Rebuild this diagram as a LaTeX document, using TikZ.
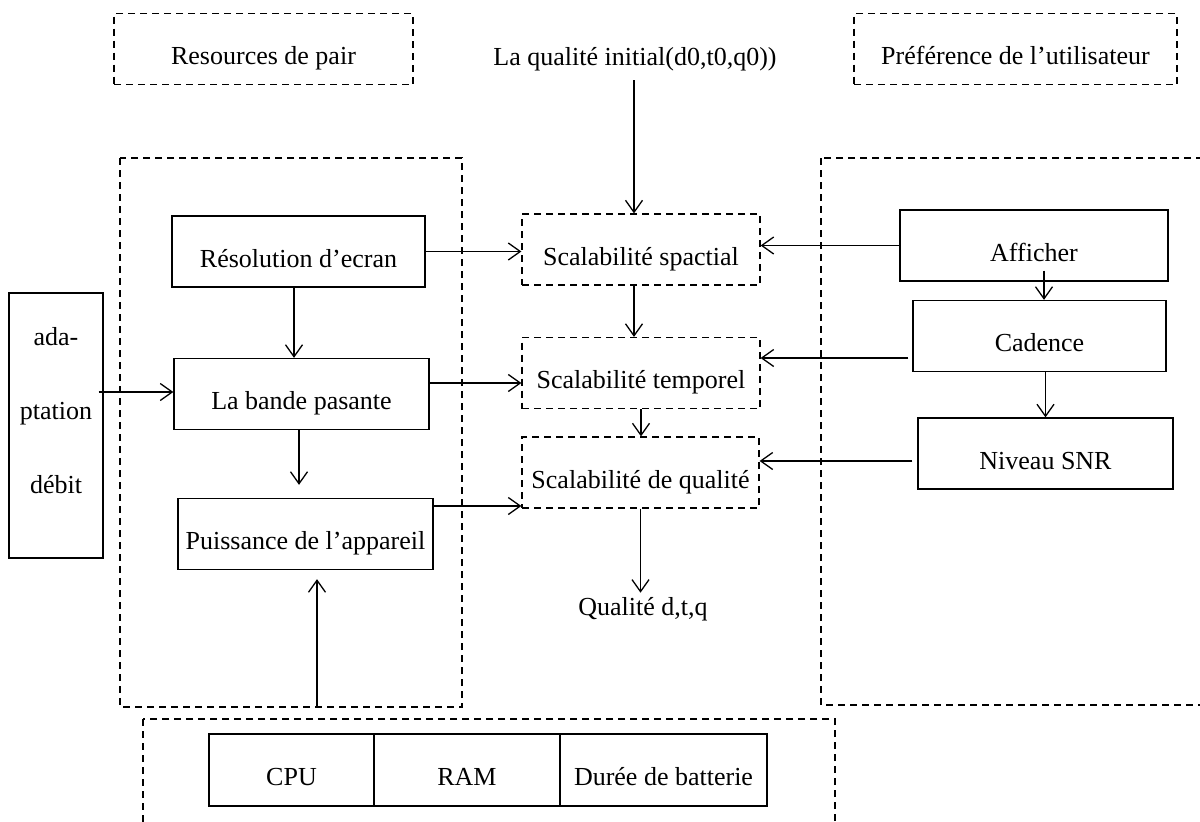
\documentclass[tikz,border=0pt]{standalone}
\usepackage{fontspec}
\setmainfont{Liberation Serif}
\usetikzlibrary{arrows.meta,calc}

\tikzset{
  txt/.style={font=\fontsize{26}{31}\selectfont, inner sep=0pt,
              text height=33pt, text depth=2pt},
  solidbox/.style={txt, draw, line width=1.3pt, minimum height=71pt},
  dashline/.style={line width=1.2pt, dash pattern=on 7pt off 5pt},
  dashbox/.style={txt, draw, dashline, minimum height=71pt},
  region/.style={draw, dashline},
  arr/.style={line width=1.3pt, -{Straight Barb[length=12pt,width=17pt,line width=1.3pt]}},
  plain/.style={line width=1.3pt}
}

\begin{document}
\begin{tikzpicture}[x=1pt, y=-1pt, line join=miter]
  \useasboundingbox (0,0) rectangle (1200,822);
  \fill[white] (0,0) rectangle (1200,822);
  \clip (0,0) rectangle (1200,822);

  % grouping regions
  \draw[region] (120,158) rectangle (462,707);
  \draw[region] (821,158) rectangle (1215,705);
  \draw[region] (143,719) rectangle (835,850);

  % headings
  \node[dashbox, minimum width=299pt] (pair) at (263.5,49) {Resources de pair};
  \node[txt] (qinit) at (635,49.5) {La qualité initial(d0,t0,q0))};
  \node[dashbox, minimum width=323pt] (pref) at (1015.5,49) {Préférence de l’utilisateur};

  % peer resources
  \node[solidbox, minimum width=253pt] (res) at (298.5,251.5) {Résolution d’ecran};
  \node[solidbox, minimum width=255pt] (band) at (301.5,394) {La bande pasante};
  \node[solidbox, minimum width=255pt] (puis) at (305.5,534) {Puissance de l’appareil};

  % rate adaptation
  \node[draw, plain, minimum width=94pt, minimum height=265pt, inner sep=0pt] (adap) at (56,425.5) {};
  \node[font=\fontsize{26}{74}\selectfont, align=center, inner sep=0pt, anchor=north] (adaptxt) at (56,327.5) {ada-\\ptation\\débit};

  % scalability stages
  \node[dashbox, minimum width=238pt] (spat) at (641,249.5) {Scalabilité spactial};
  \node[dashbox, minimum width=238pt] (temp) at (641,373) {Scalabilité temporel};
  \node[dashbox, minimum width=237pt] (qual) at (640.5,472.5) {Scalabilité de qualité};
  \node[font=\fontsize{26}{31}\selectfont, inner sep=0pt, anchor=base] (qdtq) at (643,615) {Qualité d,t,q};

  % user preferences
  \node[solidbox, minimum width=268pt] (aff) at (1034,245.5) {Afficher};
  \node[solidbox, minimum width=253pt] (cad) at (1039.5,336) {Cadence};
  \node[solidbox, minimum width=255pt] (niv) at (1045.5,453.5) {Niveau SNR};

  % device resources
  \node[solidbox, minimum width=165pt, minimum height=72pt] (cpu) at (291.5,770) {CPU};
  \node[solidbox, minimum width=186pt, minimum height=72pt] (ram) at (467,770) {RAM};
  \node[solidbox, minimum width=207pt, minimum height=72pt] (bat) at (663.5,770) {Durée de batterie};

  \coordinate (pwrin) at (317,707);

  % connectors: centre column
  \draw[arr] ($(qinit.south)+(-1,13)$) coordinate (q0) -- (q0 |- spat.north);
  \draw[arr] ($(spat.south)+(-7,0)$) coordinate (s0) -- (s0 |- temp.north);
  \draw[arr] (temp.south) -- (temp.south |- qual.north);
  \draw[arr, shorten >=4pt] (qual.south) -- (qual.south |- qdtq.north);

  % connectors: from peer resources
  \draw[arr] (res.east) -- (res.east -| spat.west);
  \draw[arr] ($(band.east)+(0,-11)$) coordinate (b0) -- (b0 -| temp.west);
  \draw[arr] ($(puis.east)+(0,-28)$) coordinate (p0) -- (p0 -| qual.west);
  \draw[arr] ($(res.south)+(-4.5,0)$) coordinate (r0) -- (r0 |- band.north);
  \draw[arr, shorten >=13pt] ($(band.south)+(-2.5,0)$) coordinate (b1) -- (b1 |- puis.north);
  \draw[arr, shorten >=9pt] (pwrin) -- (pwrin |- puis.south);
  \draw[arr] ($(adap.east |- band.west)+(-5,-2)$) coordinate (a0) -- (a0 -| band.west);

  % connectors: from user preferences
  \draw[arr] (aff.west) -- (aff.west -| spat.east);
  \draw[arr] ($(cad.west)+(-4,22)$) coordinate (c0) -- (c0 -| temp.east);
  \draw[arr] ($(niv.west)+(-5,7.5)$) coordinate (n0) -- (n0 -| qual.east);
  \draw[arr] ($(aff.south)+(10,-11)$) coordinate (f0) -- (f0 |- cad.north);
  \draw[arr] ($(cad.south)+(6,0)$) coordinate (c1) -- (c1 |- niv.north);
\end{tikzpicture}
\end{document}
